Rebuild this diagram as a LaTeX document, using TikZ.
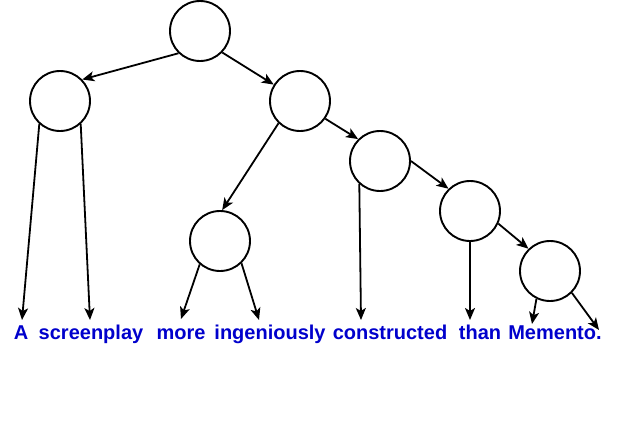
\documentclass[tikz,border=0pt]{standalone}
\usepackage{fontspec}
\setmainfont{Liberation Sans}
\usetikzlibrary{arrows.meta}
\definecolor{wordblue}{HTML}{0000CC}
\tikzset{
  >={Stealth[length=12pt,width=10pt,inset=3pt]},
  tnode/.style={circle, draw, fill=white, line width=1.9pt, minimum size=60pt, inner sep=0pt},
  word/.style={anchor=base, text=wordblue, inner sep=0pt,
    font=\fontsize{20}{24}\selectfont\bfseries},
  edge/.style={->, line width=1.8pt}
}

\begin{document}
\begin{tikzpicture}[x=1pt, y=-1pt]
  \useasboundingbox (0,0) rectangle (621,442);
  % tree nodes
  \node[tnode] (root) at (200,31) {};
  \node[tnode] (nL) at (60,101) {};
  \node[tnode] (nR) at (300,101) {};
  \node[tnode] (nRL) at (220,241) {};
  \node[tnode] (nRR) at (380,161) {};
  \node[tnode] (nRRR) at (470,211) {};
  \node[tnode] (nRRRR) at (550,271) {};
  % words
  \node[word] (wA) at (21,339) {A};
  \node[word] (wScreen) at (91,339) {screenplay};
  \node[word] (wMore) at (181,339) {more};
  \node[word] (wIngen) at (270,339) {ingeniously};
  \node[word] (wConstr) at (390,339) {constructed};
  \node[word] (wThan) at (480,339) {than};
  \node[word] (wMemento) at (555,339) {Memento.};
  % arrow tips above the words
  \coordinate (tA) at (22,320);
  \coordinate (tScreen) at (90,320);
  \coordinate (tMore) at (181,319);
  \coordinate (tIngen) at (259,320);
  \coordinate (tConstr) at (361,320);
  \coordinate (tThan) at (470,320);
  \coordinate (tMemento) at (532,324);
  \coordinate (tDot) at (599,330);
  % inner edges
  \draw[edge] (root.226) -- (nL.44);
  \draw[edge] (root.316) -- (nR.148);
  \draw[edge] (nR.226) -- (nRL.86);
  \draw[edge] (nR.325) -- (nRR.135);
  \draw[edge] (nRR.0) -- (nRRR.134);
  \draw[edge] (nRRR.336) -- (nRRRR.134);
  % leaf edges
  \draw[edge] (nL.228) -- (tA);
  \draw[edge] (nL.312) -- (tScreen);
  \draw[edge] (nRL.229) -- (tMore);
  \draw[edge] (nRL.314) -- (tIngen);
  \draw[edge] (nRR.228) -- (tConstr);
  \draw[edge] (nRRR.270) -- (tThan);
  \draw[edge] (nRRRR.244) -- (tMemento);
  \draw[edge] (nRRRR.315) -- (tDot);
\end{tikzpicture}
\end{document}
